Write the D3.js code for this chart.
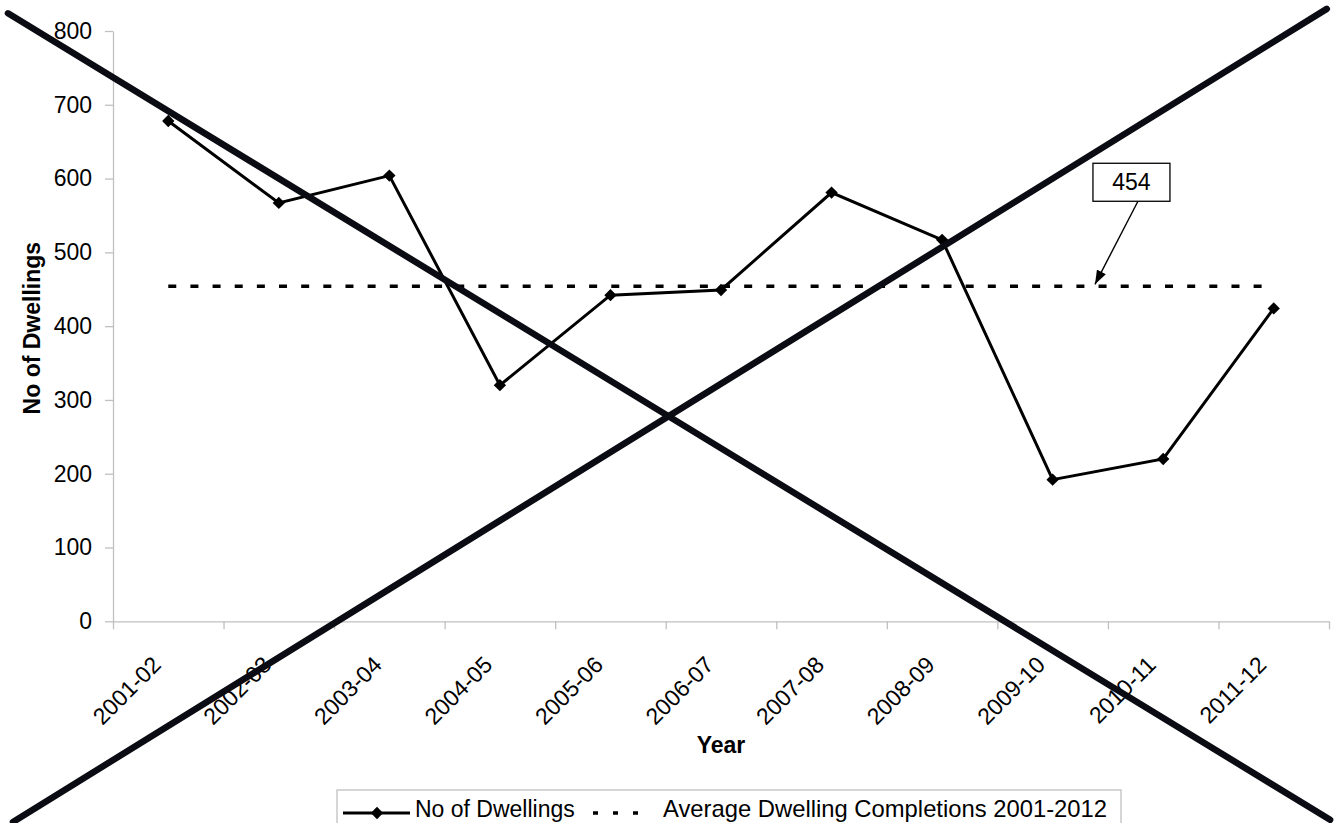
<!DOCTYPE html>
<html>
<head>
<meta charset="utf-8">
<script src="https://cdn.jsdelivr.net/npm/d3@7"></script>
<style>
  html, body { margin: 0; padding: 0; background: #fff; }
  svg { display: block; font-family: "Liberation Sans", Arial, sans-serif; }
</style>
</head>
<body>
<svg id="chart" width="1335" height="823"></svg>
<script>
// Dwelling completions per financial year
const categories = ["2001-02", "2002-03", "2003-04", "2004-05", "2005-06", "2006-07",
                    "2007-08", "2008-09", "2009-10", "2010-11", "2011-12"];
const dwellings = [678, 567, 604, 320, 442, 449, 581, 517, 192, 220, 424];
const averageValue = 454;
const yTicks = [0, 100, 200, 300, 400, 500, 600, 700, 800];
const seriesNames = ["No of Dwellings", "Average Dwelling Completions 2001-2012"];

// Strike-through lines, in (category position, value) units
const strikeA = [[-0.95, 824], [11.01, -269]];
const strikeB = [[-0.905, -272], [10.98, 830]];

// Callout box for the average value, in (category position, value) units
const calloutCenter = [9.213, 595];
const calloutTip = [8.883, 454];

const svg = d3.select("#chart");
const plot = { left: 113, right: 1329, top: 31, bottom: 621.3 };

const x = d3.scaleBand().domain(categories).range([plot.left, plot.right]).padding(0);
const xi = d3.scaleLinear().domain([0, categories.length]).range([plot.left, plot.right]);
const y = d3.scaleLinear().domain([0, 800]).range([plot.bottom, plot.top]);
const cx = c => x(c) + x.bandwidth() / 2;

const axisColor = "#c0c0c0";

// Y axis
const yAxis = svg.append("g")
  .attr("transform", `translate(${plot.left},0)`)
  .call(d3.axisLeft(y).tickValues(yTicks).tickSize(8).tickSizeOuter(0).tickPadding(13));
yAxis.select(".domain").attr("stroke", axisColor).attr("stroke-width", 1.3);
yAxis.selectAll(".tick line").attr("stroke", axisColor).attr("stroke-width", 1.3);
yAxis.selectAll(".tick text")
  .attr("font-size", 23).attr("fill", "#000")
  .attr("font-family", "'Liberation Sans', Arial, sans-serif");

// X axis (ticks at category boundaries)
const xAxis = svg.append("g")
  .attr("transform", `translate(0,${plot.bottom})`)
  .call(d3.axisBottom(xi).tickValues(d3.range(categories.length + 1))
    .tickSize(8).tickSizeOuter(0).tickFormat(""));
xAxis.select(".domain").attr("stroke", axisColor).attr("stroke-width", 1.3);
xAxis.selectAll(".tick line").attr("stroke", axisColor).attr("stroke-width", 1.3);

// Category labels, rotated
svg.append("g").selectAll("text")
  .data(categories)
  .join("text")
  .attr("transform", d => `translate(${cx(d) - 6},${plot.bottom + 45}) rotate(-45)`)
  .attr("text-anchor", "end")
  .attr("font-size", 23)
  .attr("fill", "#000")
  .text(d => d);

// Axis titles
svg.append("text")
  .attr("transform", `translate(40,${(plot.top + plot.bottom) / 2 + 2}) rotate(-90)`)
  .attr("text-anchor", "middle")
  .attr("font-size", 23).attr("font-weight", "bold")
  .text("No of Dwellings");

svg.append("text")
  .attr("x", (plot.left + plot.right) / 2)
  .attr("y", 753)
  .attr("text-anchor", "middle")
  .attr("font-size", 23).attr("font-weight", "bold")
  .text("Year");

// Average line (dashed)
svg.append("line")
  .attr("x1", cx(categories[0])).attr("x2", cx(categories[categories.length - 1]))
  .attr("y1", y(averageValue)).attr("y2", y(averageValue))
  .attr("stroke", "#000").attr("stroke-width", 3.5)
  .attr("stroke-dasharray", "8,14.15");

// Dwellings series
const line = d3.line().x((d, i) => cx(categories[i])).y(d => y(d));
svg.append("path")
  .datum(dwellings)
  .attr("d", line)
  .attr("fill", "none").attr("stroke", "#000").attr("stroke-width", 3)
  .attr("stroke-linejoin", "miter");

const diamond = d3.symbol().type(d3.symbolSquare).size(76);
svg.append("g").selectAll("path")
  .data(dwellings)
  .join("path")
  .attr("transform", (d, i) => `translate(${cx(categories[i])},${y(d)}) rotate(45)`)
  .attr("d", diamond)
  .attr("fill", "#000");

// Callout for the average
const defs = svg.append("defs");
defs.append("marker")
  .attr("id", "arrowHead")
  .attr("markerUnits", "userSpaceOnUse")
  .attr("viewBox", "0 0 14 10")
  .attr("refX", 14).attr("refY", 5)
  .attr("markerWidth", 14).attr("markerHeight", 10)
  .attr("orient", "auto")
  .append("path").attr("d", "M0,0 L14,5 L0,10 Z").attr("fill", "#000");

const boxW = 77, boxH = 38;
const bx = xi(calloutCenter[0]), by = y(calloutCenter[1]);
svg.append("line")
  .attr("x1", bx + 6.5).attr("y1", by + boxH / 2)
  .attr("x2", xi(calloutTip[0])).attr("y2", y(calloutTip[1]) - 2)
  .attr("stroke", "#000").attr("stroke-width", 1.4)
  .attr("marker-end", "url(#arrowHead)");
svg.append("rect")
  .attr("x", bx - boxW / 2).attr("y", by - boxH / 2)
  .attr("width", boxW).attr("height", boxH)
  .attr("fill", "#fff").attr("stroke", "#000").attr("stroke-width", 1.3);
svg.append("text")
  .attr("x", bx).attr("y", by + 8)
  .attr("text-anchor", "middle").attr("font-size", 23)
  .text(averageValue);

// Strike-through cross
svg.append("g").selectAll("line")
  .data([strikeA, strikeB])
  .join("line")
  .attr("x1", d => xi(d[0][0])).attr("y1", d => y(d[0][1]))
  .attr("x2", d => xi(d[1][0])).attr("y2", d => y(d[1][1]))
  .attr("stroke", "#0b0b14").attr("stroke-width", 6.5)
  .attr("stroke-linecap", "round");

// Legend
const legend = svg.append("g").attr("transform", "translate(337,790)");
legend.append("rect")
  .attr("x", 0).attr("y", 0).attr("width", 784).attr("height", 60)
  .attr("fill", "#fff").attr("stroke", axisColor).attr("stroke-width", 1.3);
legend.append("line")
  .attr("x1", 6).attr("x2", 73).attr("y1", 23).attr("y2", 23)
  .attr("stroke", "#000").attr("stroke-width", 3);
legend.append("path")
  .attr("transform", "translate(40,23) rotate(45)")
  .attr("d", diamond).attr("fill", "#000");
legend.append("text")
  .attr("x", 78).attr("y", 26.5).attr("font-size", 23)
  .text(seriesNames[0]);
legend.append("line")
  .attr("x1", 256).attr("x2", 302).attr("y1", 23).attr("y2", 23)
  .attr("stroke", "#000").attr("stroke-width", 3.5)
  .attr("stroke-dasharray", "5,15");
legend.append("text")
  .attr("x", 326).attr("y", 26.5).attr("font-size", 23.8)
  .text(seriesNames[1]);
</script>
</body>
</html>
